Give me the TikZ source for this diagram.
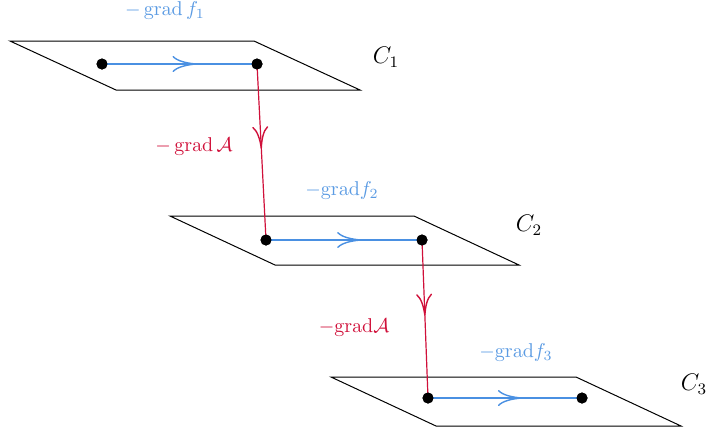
\documentclass[tikz,border=0pt]{standalone}
\usepackage{amsmath}
\usetikzlibrary{arrows.meta,decorations.markings}
\definecolor{fblue}{HTML}{4A90E2}
\definecolor{lblue}{HTML}{5B9BE3}
\definecolor{fred}{HTML}{D0103A}
\tikzset{
  plane/.style={draw=black, line width=0.5pt},
  pt/.style={circle, fill=black, inner sep=0pt, minimum size=5.5pt},
  flowarrow/.style={fblue, line width=0.6pt, postaction={decorate},
    decoration={markings, mark=at position 0.61 with {\arrow{Computer Modern Rightarrow[length=12pt,width=8pt,line width=0.7pt]}}}},
  connarrow/.style={fred, line width=0.6pt, postaction={decorate},
    decoration={markings, mark=at position 0.48 with {\arrow{Computer Modern Rightarrow[length=11pt,width=8pt,line width=0.7pt]}}}},
  bluelabel/.style={text=lblue, font=\normalsize},
  redlabel/.style={text=fred, font=\normalsize},
  clabel/.style={font=\large}
}
\begin{document}
\begin{tikzpicture}[x=0.5pt,y=-0.5pt]
\useasboundingbox (0,0) rectangle (710,436);
% planes
\draw[plane] (10,41) -- (254,41) -- (360,90) -- (116,90) -- cycle;
\draw[plane] (170,216) -- (414,216) -- (519,265) -- (275,265) -- cycle;
\draw[plane] (331,377) -- (576,377) -- (681,426) -- (436,426) -- cycle;
% points
\node[pt] (a1) at (102,64) {};
\node[pt] (b1) at (257,64) {};
\node[pt] (a2) at (266,240) {};
\node[pt] (b2) at (422,240) {};
\node[pt] (a3) at (428,398) {};
\node[pt] (b3) at (582,398) {};
% flows
\draw[flowarrow] (a1.center) -- (b1.center);
\draw[flowarrow] (a2.center) -- (b2.center);
\draw[flowarrow] (a3.center) -- (b3.center);
\draw[connarrow] (b1.center) -- (a2.center);
\draw[connarrow] (b2.center) -- (a3.center);
\node[pt] at (a1) {};\node[pt] at (b1) {};\node[pt] at (a2) {};
\node[pt] at (b2) {};\node[pt] at (a3) {};\node[pt] at (b3) {};
% labels
\node[bluelabel] (l1) at (165,10) {$-\operatorname{grad} f_1$};
\node[bluelabel] (l2) at (342,190) {$-\mathrm{grad} f_2$};
\node[bluelabel] (l3) at (516,352) {$-\mathrm{grad} f_3$};
\node[redlabel] (r1) at (194,146) {$-\operatorname{grad}\mathcal{A}$};
\node[redlabel] (r2) at (354,327) {$-\mathrm{grad}\mathcal{A}$};
\node[clabel] (c1) at (386,57) {$C_1$};
\node[clabel] (c2) at (529,225) {$C_2$};
\node[clabel] (c3) at (694,384) {$C_3$};
\end{tikzpicture}
\end{document}
